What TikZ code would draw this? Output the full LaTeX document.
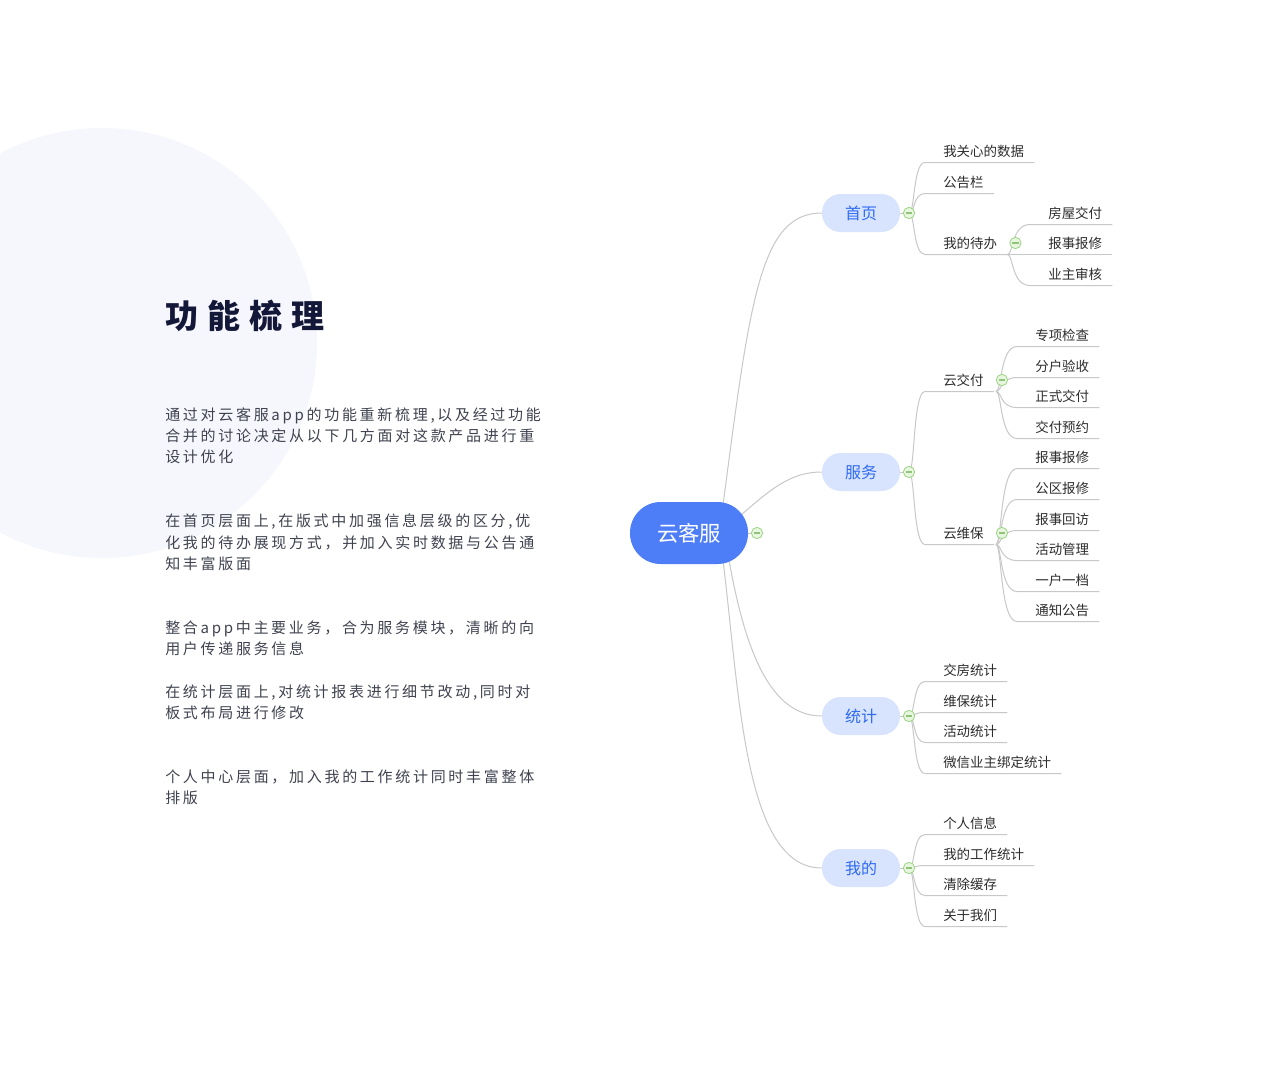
\documentclass[tikz,border=0pt]{standalone}
\usepackage{fontspec}
\setmainfont{Noto Sans CJK SC}
\newfontfamily\cjkbody[LetterSpace=18]{Noto Sans CJK SC}
\newfontfamily\cjktitle[LetterSpace=28]{Noto Sans CJK SC}
\usetikzlibrary{calc,backgrounds}
\definecolor{rootblue}{RGB}{78,126,247}
\definecolor{branchfill}{RGB}{216,227,253}
\definecolor{branchtext}{RGB}{47,107,243}
\definecolor{linegray}{RGB}{200,200,200}
\definecolor{foldfill}{RGB}{232,245,223}
\definecolor{foldline}{RGB}{155,212,132}
\definecolor{foldbar}{RGB}{143,196,122}
\definecolor{leaftext}{RGB}{45,45,45}
\definecolor{bodytext}{RGB}{64,67,79}
\definecolor{titletext}{RGB}{20,24,56}
\definecolor{bgcirc}{RGB}{246,247,253}
\tikzset{
  conn/.style={draw=linegray, line width=0.75pt},
  rootnode/.style={fill=rootblue, text=white, rounded corners=23pt, minimum width=88.5pt, minimum height=46.5pt, inner sep=0pt, font=\fontsize{16pt}{18pt}\selectfont},
  branch/.style={fill=branchfill, text=branchtext, rounded corners=14pt, minimum width=58.5pt, minimum height=28.5pt, inner sep=0pt, font=\fontsize{12pt}{14pt}\selectfont},
  leaf/.style={anchor=west, inner sep=0pt, text=leaftext, text height=8.4pt, text depth=0.8pt, font=\fontsize{10.1pt}{12pt}\selectfont},
  bodyline/.style={anchor=west, inner sep=0pt, text=bodytext, text height=9.3pt, text depth=0.9pt, font=\cjkbody\fontsize{11.25pt}{14pt}\selectfont},
  titlenode/.style={anchor=west, inner sep=0pt, text=titletext, text height=20.5pt, text depth=2pt, font=\cjktitle\bfseries\fontsize{24.75pt}{28pt}\selectfont},
  fold/.style={circle, draw=foldline, fill=foldfill, line width=0.6pt, minimum size=8.5pt, inner sep=0pt,
    path picture={\draw[foldbar, line width=0.8pt] ([xshift=-2.5pt]path picture bounding box.center) -- ([xshift=2.5pt]path picture bounding box.center);}}
}
\newcommand\mmleaf[5]{%
  \node[leaf] (#1) at (#3,#4) {#5};
  \coordinate (#1s) at ({#3-18},{#4+11.5});
  \begin{pgfonlayer}{background}
  \draw[conn] let \p1=(#2), \p2=(#1s) in (\p1) .. controls (\x1+4.5pt,\y1) and (\x1+3pt,\y2) .. (\p2) -- (#1.east |- #1s) -- ++(10,0);
  \end{pgfonlayer}}
\begin{document}
\begin{tikzpicture}[x=0.75pt,y=-0.75pt]
\useasboundingbox (0,0) rectangle (1280,1067);
\clip (0,0) rectangle (1280,1067);
\begin{pgfonlayer}{background}
\fill[white] (0,0) rectangle (1280,1067);
\fill[bgcirc] (102,343) circle[radius=161.25pt];
\end{pgfonlayer}

% left text
\node[titlenode] (title) at (165,316) {功能梳理};
\node[bodyline] (b11) at (165,415) {通过对云客服app的功能重新梳理,以及经过功能};
\node[bodyline] (b12) at (165,436) {合并的讨论决定从以下几方面对这款产品进行重};
\node[bodyline] (b13) at (165,457) {设计优化};
\node[bodyline] (b21) at (165,521) {在首页层面上,在版式中加强信息层级的区分,优};
\node[bodyline] (b22) at (165,543) {化我的待办展现方式，并加入实时数据与公告通};
\node[bodyline] (b23) at (165,564) {知丰富版面};
\node[bodyline] (b31) at (165,628) {整合app中主要业务，合为服务模块，清晰的向};
\node[bodyline] (b32) at (165,649) {用户传递服务信息};
\node[bodyline] (b41) at (165,692) {在统计层面上,对统计报表进行细节改动,同时对};
\node[bodyline] (b42) at (165,713) {板式布局进行修改};
\node[bodyline] (b51) at (165,777) {个人中心层面，加入我的工作统计同时丰富整体};
\node[bodyline] (b52) at (165,798) {排版};

% main nodes
\node[rootnode] (root) at (689,533) {云客服};
\node[branch] (home) at (861,213) {首页};
\node[branch] (serv) at (861,472) {服务};
\node[branch] (stat) at (861,716) {统计};
\node[branch] (mine) at (861,868) {我的};

\begin{pgfonlayer}{background}
\draw[conn] ([xshift=25.5pt,yshift=21pt]root.center) .. controls (750,300) and (760,213) .. (home.west);
\draw[conn] ([xshift=39pt,yshift=13.5pt]root.center) .. controls (770,490) and (790,472) .. (serv.west);
\draw[conn] ([xshift=30pt,yshift=-20.25pt]root.center) .. controls (745,650) and (770,716) .. (stat.west);
\draw[conn] ([xshift=25.5pt,yshift=-20.25pt]root.center) .. controls (740,700) and (745,868) .. (mine.west);
\end{pgfonlayer}

\node[fold] (fr) at (757,533) {};
\node[fold] (fh) at (909,213) {};
\node[fold] (fs) at (909,472) {};
\node[fold] (ft) at (909,716) {};
\node[fold] (fm) at (909,868) {};
\begin{pgfonlayer}{background}
\draw[conn] (root.east) -- (fr);
\draw[conn] (home.east) -- (fh);
\draw[conn] (serv.east) -- (fs);
\draw[conn] (stat.east) -- (ft);
\draw[conn] (mine.east) -- (fm);
\end{pgfonlayer}

% 首页
\mmleaf{hl1}{fh}{943}{151}{我关心的数据}
\mmleaf{hl2}{fh}{943}{182}{公告栏}
\mmleaf{hl3}{fh}{943}{243}{我的待办}
\coordinate (hl3e) at ($(hl3.east)+(10,11.5)$);
\node[fold] (fh3) at ($(hl3.east)+(18,0)$) {};
\mmleaf{hs1}{hl3e}{1048}{213}{房屋交付}
\mmleaf{hs2}{hl3e}{1048}{243}{报事报修}
\mmleaf{hs3}{hl3e}{1048}{274}{业主审核}

% 服务
\mmleaf{sl1}{fs}{943}{380}{云交付}
\mmleaf{sl2}{fs}{943}{533}{云维保}
\coordinate (sl1e) at ($(sl1.east)+(12,11.5)$);
\coordinate (sl2e) at ($(sl2.east)+(12,11.5)$);
\node[fold] (fs1) at ($(sl1.east)+(18,0)$) {};
\node[fold] (fs2) at ($(sl2.east)+(18,0)$) {};
\mmleaf{sa1}{sl1e}{1035}{335}{专项检查}
\mmleaf{sa2}{sl1e}{1035}{366}{分户验收}
\mmleaf{sa3}{sl1e}{1035}{396}{正式交付}
\mmleaf{sa4}{sl1e}{1035}{427}{交付预约}
\mmleaf{sb1}{sl2e}{1035}{457}{报事报修}
\mmleaf{sb2}{sl2e}{1035}{488}{公区报修}
\mmleaf{sb3}{sl2e}{1035}{519}{报事回访}
\mmleaf{sb4}{sl2e}{1035}{549}{活动管理}
\mmleaf{sb5}{sl2e}{1035}{580}{一户一档}
\mmleaf{sb6}{sl2e}{1035}{610}{通知公告}

% 统计
\mmleaf{tl1}{ft}{943}{670}{交房统计}
\mmleaf{tl2}{ft}{943}{701}{维保统计}
\mmleaf{tl3}{ft}{943}{731}{活动统计}
\mmleaf{tl4}{ft}{943}{762}{微信业主绑定统计}

% 我的
\mmleaf{ml1}{fm}{943}{823}{个人信息}
\mmleaf{ml2}{fm}{943}{854}{我的工作统计}
\mmleaf{ml3}{fm}{943}{884}{清除缓存}
\mmleaf{ml4}{fm}{943}{915}{关于我们}
\end{tikzpicture}
\end{document}
